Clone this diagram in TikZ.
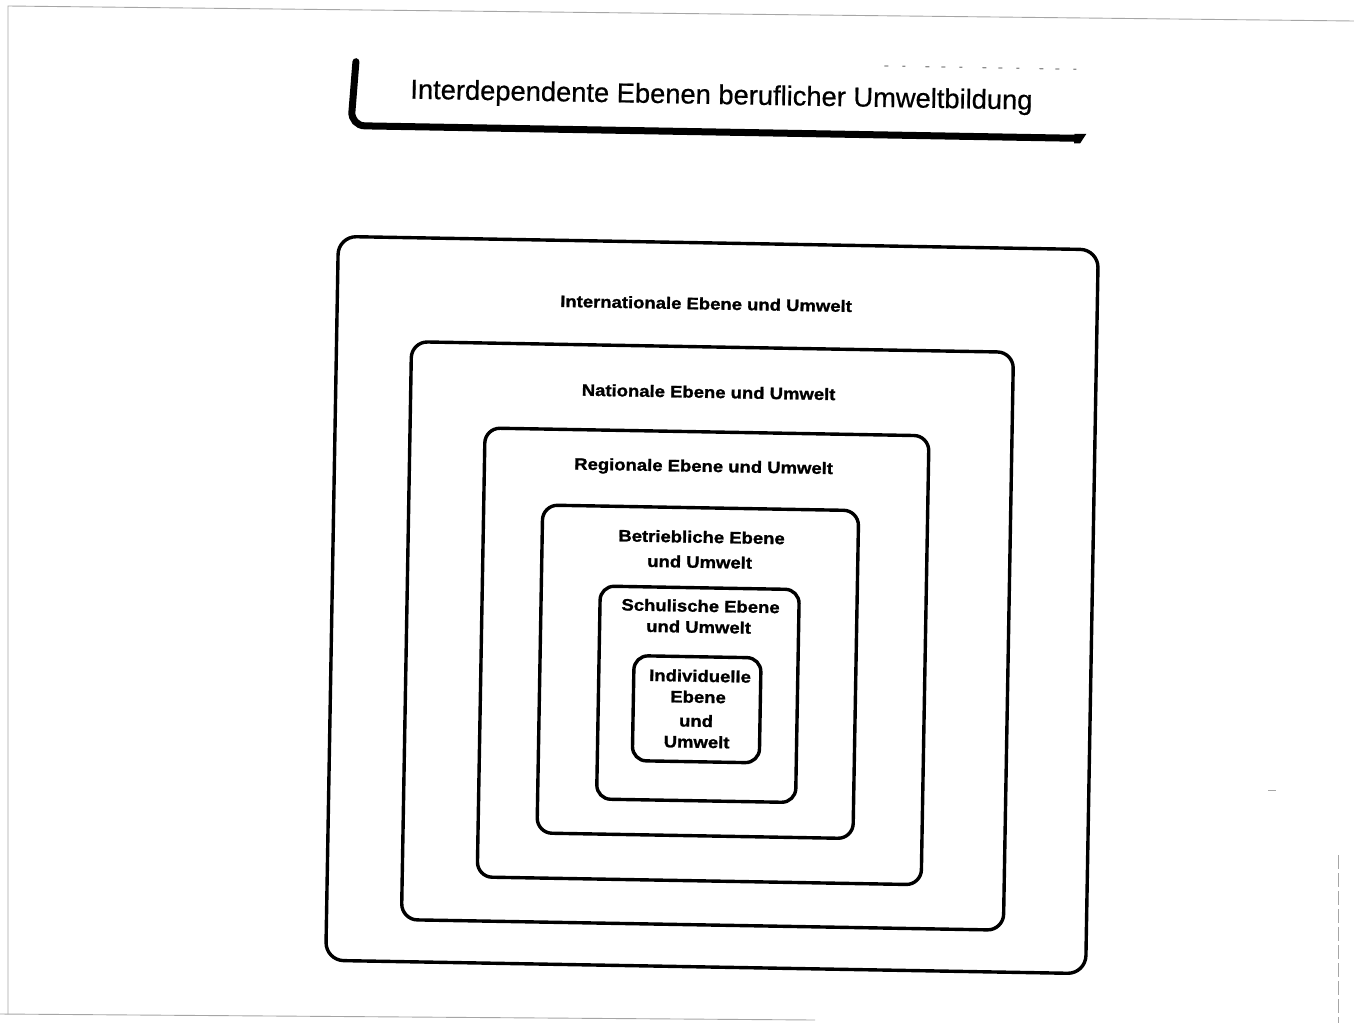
\documentclass[tikz,border=0pt]{standalone}
\usepackage{fontspec}
\setmainfont{Liberation Sans}
\newfontfamily\lblfont[FakeStretch=1.12, BoldFeatures={FakeBold=1.3}]{Liberation Sans}
\newfontfamily\ttlfont[FakeBold=0.6]{Liberation Sans}
\begin{document}
\begin{tikzpicture}[x=1pt,y=-1pt,
  lvl/.style={draw=black, line width=3.4pt},
  lbl/.style={anchor=base, inner sep=0pt, font=\lblfont\bfseries\fontsize{16.5}{20}\selectfont},
  ttl/.style={anchor=base, inner sep=0pt, font=\ttlfont\fontsize{27.3}{32}\selectfont},
  scan/.style={draw=black!35, line width=0.9pt}]
\useasboundingbox (0,0) rectangle (1354,1023);
\fill[white] (0,0) rectangle (1354,1023);
% faint scan frame
\draw[scan] (8,1014) -- (8,6) -- (1354,21);
\draw[scan] (0,1014) -- (815,1020);
\draw[scan, dash pattern=on 14pt off 4pt] (1338,855) -- (1338,1023);
\draw[scan] (1268,790) -- (1276,790);
\begin{scope}[rotate around={-1:(712,605)}, transform shape]
  % title bracket
  \draw[line width=7pt, line cap=round, rounded corners=14pt] (346.5,68) -- (342.5,132) -- (1070,132);
  \fill (1066,127.5) -- (1078,127.5) -- (1072,137) -- (1066,137) -- cycle;
  \draw[black!45, line width=1.2pt, dash pattern=on 4pt off 14pt on 3pt off 20pt on 4pt off 12pt] (875,63) -- (1075,63);
  \node[ttl] (title) at (712.6,104) {Interdependente Ebenen beruflicher Umweltbildung};
  % nested levels
  \draw[lvl, rounded corners=18pt] (332,243) rectangle (1092,967);
  \draw[lvl, rounded corners=16pt] (407,347) rectangle (1009,925);
  \draw[lvl, rounded corners=15pt] (482,432) rectangle (926,881);
  \draw[lvl, rounded corners=15pt] (541,508) rectangle (857,836);
  \draw[lvl, rounded corners=14pt] (600,588) rectangle (799,801);
  \draw[lvl, rounded corners=14pt] (635,657) rectangle (762,762);
  % labels
  \node[lbl] (intl) at (700.8,309.6) {Internationale Ebene und Umwelt};
  \node[lbl] (natl) at (704.9,398) {Nationale Ebene und Umwelt};
  \node[lbl] (regl) at (701.2,472) {Regionale Ebene und Umwelt};
  \node[lbl] (betr1) at (700.4,543) {Betriebliche Ebene};
  \node[lbl] (betr2) at (698.9,568) {und Umwelt};
  \node[lbl] (schul1) at (700.6,612) {Schulische Ebene};
  \node[lbl] (schul2) at (699,633) {und Umwelt};
  \node[lbl] (ind1) at (701.3,682) {Individuelle};
  \node[lbl] (ind2) at (699.7,703) {Ebene};
  \node[lbl] (ind3) at (698.1,727) {und};
  \node[lbl] (ind4) at (699,748) {Umwelt};
\end{scope}
\end{tikzpicture}
\end{document}
